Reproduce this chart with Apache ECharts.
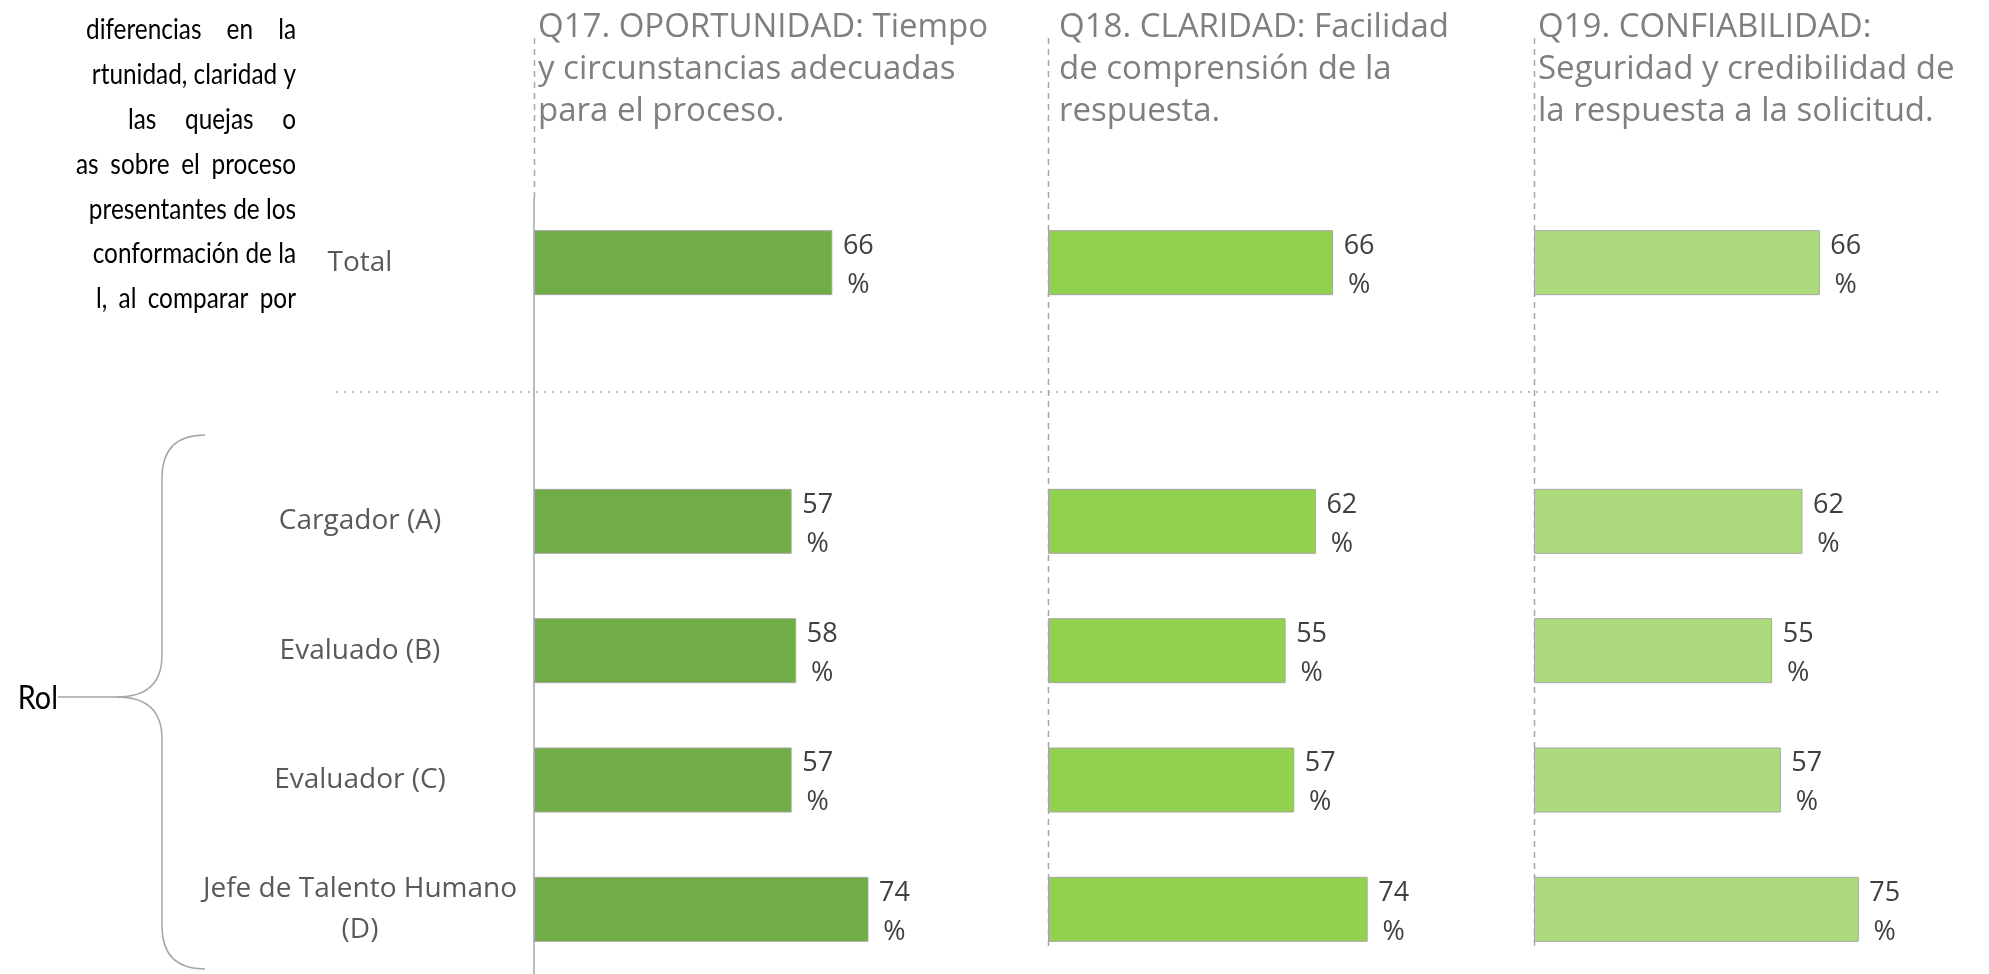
<!DOCTYPE html>
<html>
<head>
<meta charset="UTF-8">
<title>Oportunidad, claridad y confiabilidad por rol</title>
<script src="https://cdn.jsdelivr.net/npm/echarts@6/dist/echarts.min.js"></script>
<style>
  html, body { margin: 0; padding: 0; background: #fff; }
  #main { width: 1989px; height: 974px; }
</style>
</head>
<body>
<div id="main"></div>
<script>
// datos
var categorias = ['Total', '', 'Cargador (A)', 'Evaluado (B)', 'Evaluador (C)', 'Jefe de Talento Humano\n(D)'];
var oportunidad = [66, '-', 57, 58, 57, 74];
var claridad = [66, '-', 62, 55, 57, 74];
var confiabilidad = [66, '-', 62, 55, 57, 75];
var titulos = [
  'Q17. OPORTUNIDAD: Tiempo\ny circunstancias adecuadas\npara el proceso.',
  'Q18. CLARIDAD: Facilidad\nde comprensión de la\nrespuesta.',
  'Q19. CONFIABILIDAD:\nSeguridad y credibilidad de\nla respuesta a la solicitud.'
];
var parrafo = [
  'diferencias en la',
  'rtunidad, claridad y',
  'las quejas o',
  'as sobre el proceso',
  'presentantes de los',
  'conformación de la',
  'l, al comparar por'
];

var colores = ['#70AD47', '#92D050', '#ADDA7C'];
var fuente = '"Open Sans", "Noto Sans", sans-serif';
var series = [oportunidad, claridad, confiabilidad];
var paneles = [
  { left: 534, width: 452, tituloX: 538 },
  { left: 1048, width: 432, tituloX: 1059 },
  { left: 1534, width: 433, tituloX: 1538 }
];

var myChart = echarts.init(document.getElementById('main'));

var option = {
  backgroundColor: '#fff',
  animation: false,
  title: titulos.map(function (t, i) {
    return {
      text: t, left: paneles[i].tituloX, top: 7, padding: 0,
      textStyle: { fontFamily: fuente, fontSize: 33, fontWeight: 'normal', color: '#7f7f7f', lineHeight: 42 }
    };
  }),
  grid: paneles.map(function (p) {
    return { left: p.left, width: p.width, top: 198, height: 777 };
  }),
  xAxis: paneles.map(function (p, i) {
    return { type: 'value', gridIndex: i, min: 0, max: 100, show: false };
  }),
  yAxis: paneles.map(function (p, i) {
    return {
      type: 'category', gridIndex: i, data: categorias, inverse: true,
      axisTick: { show: false },
      axisLine: { show: i === 0, lineStyle: { color: '#a6a6a6', width: 1.5 } },
      axisLabel: {
        show: i === 0, align: 'center', margin: 174, padding: [5, 0, 0, 0],
        fontFamily: fuente, fontSize: 28, color: '#595959', lineHeight: 41
      }
    };
  }),
  series: series.map(function (d, i) {
    return {
      type: 'bar', xAxisIndex: i, yAxisIndex: i, data: d,
      barWidth: 65,
      itemStyle: { color: colores[i], borderColor: '#a5a5a5', borderWidth: 1 },
      label: {
        show: true, position: 'right', distance: 26, align: 'center', offset: [0, 3],
        formatter: '{c}\n%', fontFamily: fuente, fontSize: 27, color: '#404040', lineHeight: 39
      }
    };
  })
};
myChart.setOption(option);

// decoraciones: separadores, llave y texto de fondo
var gris = '#a6a6a6';
var graficos = [];
var ySep = myChart.convertToPixel({ yAxisIndex: 0 }, 1);
graficos.push({ type: 'line', shape: { x1: 336, y1: ySep, x2: 1938, y2: ySep },
  style: { stroke: gris, lineWidth: 1.5, lineDash: [2, 6] } });

paneles.forEach(function (p, i) {
  var x = Math.round(myChart.convertToPixel({ xAxisIndex: i }, 0)) + 0.5;
  var y2 = i === 0 ? 198 : 950;
  graficos.push({ type: 'line', shape: { x1: x, y1: 38, x2: x, y2: y2 },
    style: { stroke: gris, lineWidth: 1.5, lineDash: [6, 5] } });
});

// llave "Rol"
var piezas = [
  { type: 'bezierCurve', shape: { x1: 205, y1: 435, cpx1: 162, cpy1: 435, x2: 162, y2: 478 } },
  { type: 'line', shape: { x1: 162, y1: 478, x2: 162, y2: 655 } },
  { type: 'bezierCurve', shape: { x1: 162, y1: 655, cpx1: 162, cpy1: 697, x2: 117, y2: 697 } },
  { type: 'bezierCurve', shape: { x1: 117, y1: 697, cpx1: 162, cpy1: 697, x2: 162, y2: 739 } },
  { type: 'line', shape: { x1: 162, y1: 739, x2: 162, y2: 926 } },
  { type: 'bezierCurve', shape: { x1: 162, y1: 926, cpx1: 162, cpy1: 969, x2: 205, y2: 969 } },
  { type: 'line', shape: { x1: 58, y1: 697, x2: 117, y2: 697 } }
];
piezas.forEach(function (g) {
  g.style = { stroke: gris, lineWidth: 1.5, fill: null };
  graficos.push(g);
});
graficos.push({ type: 'text', x: 58, y: 699, scaleX: 0.9,
  style: { text: 'Rol', font: '32px Lato, sans-serif', fill: '#000',
    align: 'right', verticalAlign: 'middle', textAlign: 'right', textVerticalAlign: 'middle' } });

// parrafo justificado, recortado a la izquierda (Calibri aprox. con Lato estrechado)
var fParrafo = '29px Lato, sans-serif';
var estrecho = 0.84;
var ctx = document.createElement('canvas').getContext('2d');
ctx.font = fParrafo;
var inicios = [86, null, 128, 76, null, null, 96]; // null: espaciado normal
var derecha = 296;
parrafo.forEach(function (linea, k) {
  var palabras = linea.split(' ');
  var anchos = palabras.map(function (w) { return ctx.measureText(w).width * estrecho; });
  var total = anchos.reduce(function (a, b) { return a + b; }, 0);
  var minimo = ctx.measureText(' ').width * estrecho;
  var hueco = minimo;
  if (inicios[k] !== null && palabras.length > 1) {
    hueco = Math.max(minimo, (derecha - inicios[k] - total) / (palabras.length - 1));
  }
  var x = derecha - total - hueco * (palabras.length - 1);
  palabras.forEach(function (w, j) {
    graficos.push({ type: 'text', x: x, y: 30 + k * 44.8, scaleX: estrecho,
      style: { text: w, font: fParrafo, fill: '#000',
        align: 'left', verticalAlign: 'middle', textAlign: 'left', textVerticalAlign: 'middle' } });
    x += anchos[j] + hueco;
  });
});

myChart.setOption({ graphic: { elements: graficos } });
</script>
</body>
</html>
